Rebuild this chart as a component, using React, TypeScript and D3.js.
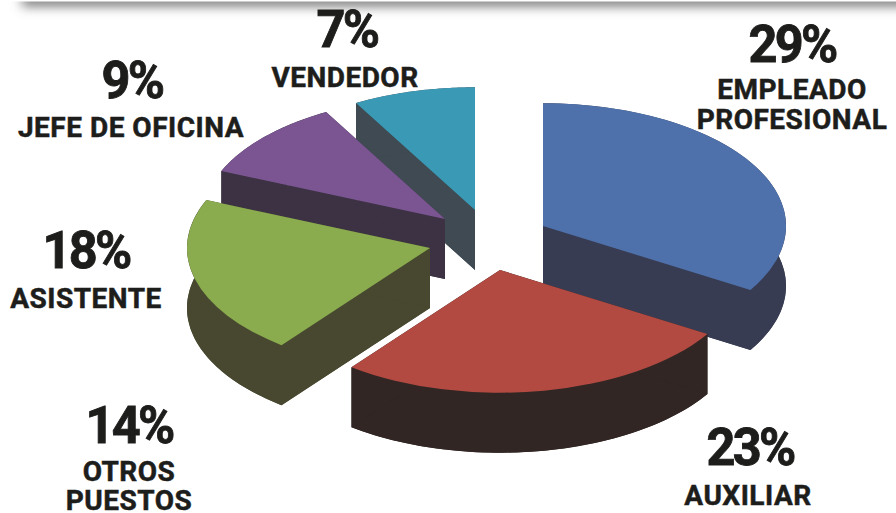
import React from "react";
import * as d3 from "d3";

// Shares by job position, in percent
const positions = ["EMPLEADO PROFESIONAL", "AUXILIAR", "OTROS PUESTOS", "ASISTENTE", "JEFE DE OFICINA", "VENDEDOR"];
const shares = [29, 23, 14, 18, 9, 7];

// Positions that get their own wedge; "OTROS PUESTOS" is only a caption
const wedgePositions = ["EMPLEADO PROFESIONAL", "AUXILIAR", "ASISTENTE", "JEFE DE OFICINA", "VENDEDOR"];

// Wedge styling, by position
const topColors = ["#4e71ab", "#b24a42", "#8aab4e", "#7a5592", "#3a9ab6"];
const wallColors = ["#383c52", "#312624", "#47482f", "#3c3243", "#3f4a52"];

// Apex of each pulled-apart wedge, on the top face
const apexes: [number, number][] = [[543, 226], [500, 270], [430, 248], [445, 219], [475, 210]];

// Painted back to front
const paintOrder = [4, 3, 0, 2, 1];

// Caption placement: centre x, baseline of the figure, baseline of each text line
const captionX = [792, 748, 129, 86, 131, 345];
const figureX = [792, 750, 129, 86, 132, 347];
const figureY = [62, 465, 443, 268, 98, 47];
const lineY = [[99, 129], [505], [481, 510], [308], [137], [87]];
const captionLines = [["EMPLEADO", "PROFESIONAL"], ["AUXILIAR"], ["OTROS", "PUESTOS"], ["ASISTENTE"], ["JEFE DE OFICINA"], ["VENDEDOR"]];

const WIDTH = 896;
const HEIGHT = 513;
const RADIUS = 243;
const TILT = 0.505;
const DEPTH = 60;
const FONT = "Roboto, 'Open Sans', sans-serif";
const INK = "#1d1d1b";

const wedgeValues = wedgePositions.map((p) => shares[positions.indexOf(p)]);
const wedges = d3.pie<number>().sort(null)(wedgeValues);

const sector = d3.arc<d3.PieArcDatum<number>>().innerRadius(0).outerRadius(RADIUS);

type Rim = { x: number; y: number };
const wall = d3
  .area<Rim>()
  .x((d) => d.x)
  .y0((d) => d.y)
  .y1((d) => d.y + DEPTH);

function rimPoint(apex: [number, number], angle: number): Rim {
  return { x: apex[0] + RADIUS * Math.sin(angle), y: apex[1] - RADIUS * TILT * Math.cos(angle) };
}

function Wedge({ index }: { index: number }) {
  const w = wedges[index];
  const apex = apexes[index];
  const centre: Rim = { x: apex[0], y: apex[1] };
  const steps = 60;
  const rim = d3.range(steps + 1).map((i) =>
    rimPoint(apex, w.startAngle + ((w.endAngle - w.startAngle) * i) / steps)
  );
  const sideColor = wallColors[index];
  return (
    <g>
      <path d={wall(rim) ?? ""} fill={sideColor} />
      <path d={wall([centre, rim[0]]) ?? ""} fill={sideColor} />
      <path d={wall([centre, rim[steps]]) ?? ""} fill={sideColor} />
      <path
        d={sector(w) ?? ""}
        transform={`translate(${apex[0]},${apex[1] + DEPTH}) scale(1,${TILT})`}
        fill={sideColor}
      />
      <path
        d={sector(w) ?? ""}
        transform={`translate(${apex[0]},${apex[1]}) scale(1,${TILT})`}
        fill={topColors[index]}
      />
    </g>
  );
}

export default function App() {
  return (
    <svg
      width={WIDTH}
      height={HEIGHT}
      viewBox={`0 0 ${WIDTH} ${HEIGHT}`}
      style={{ position: "absolute", left: 0, top: 0, display: "block", background: "#fff" }}
    >
      <defs>
        <filter id="headerShadow" x="-5%" y="-200%" width="110%" height="600%">
          <feGaussianBlur stdDeviation="6" />
        </filter>
      </defs>
      {/* Soft shadow under the page header */}
      <rect x={22} y={-6} width={WIDTH + 40} height={12} fill="#6f6f6f" filter="url(#headerShadow)" />
      <rect x={0} y={0} width={WIDTH} height={1.5} fill="#fff" />

      {paintOrder.map((i) => (
        <Wedge key={i} index={i} />
      ))}

      {positions.map((p, i) => (
        <g key={p} fontFamily={FONT} fontWeight={700} fill={INK} stroke={INK} textAnchor="middle">
          <text
            transform={`translate(${figureX[i]},${figureY[i]}) scale(0.97,1)`}
            fontSize={52}
            letterSpacing={-2.8}
            strokeWidth={0.9}
          >
            {shares[i]}%
          </text>
          {captionLines[i].map((line, j) => (
            <text key={line} x={captionX[i]} y={lineY[i][j]} fontSize={28} letterSpacing={0.5} strokeWidth={0.5}>
              {line}
            </text>
          ))}
        </g>
      ))}
    </svg>
  );
}
